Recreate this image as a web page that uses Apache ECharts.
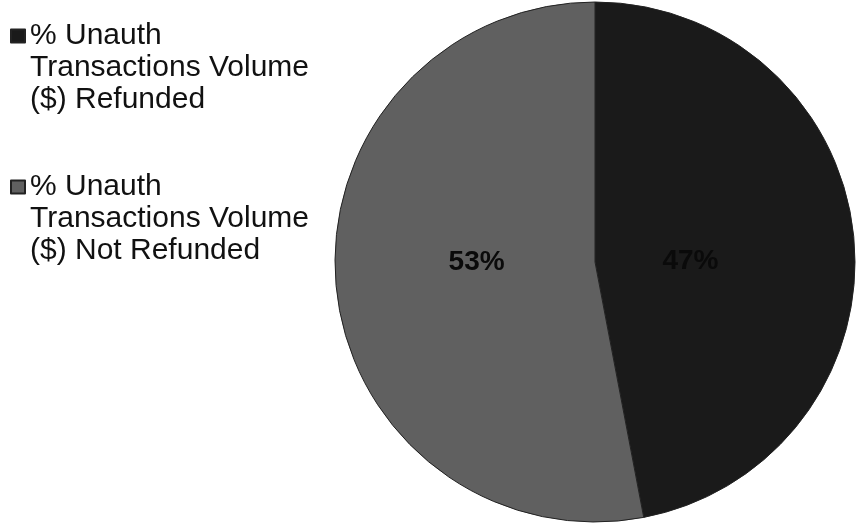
<!DOCTYPE html>
<html>
<head>
<meta charset="utf-8">
<script src="https://cdn.jsdelivr.net/npm/echarts@6/dist/echarts.min.js"></script>
<style>
  html, body { margin: 0; padding: 0; background: #fff; }
  #chart { width: 861px; height: 529px; }
</style>
</head>
<body>
<div id="chart"></div>
<script>
// Share of unauthorised transaction volume ($), refunded vs not refunded
const categories = [
  '% Unauth Transactions Volume ($) Refunded',
  '% Unauth Transactions Volume ($) Not Refunded'
];
const values = [47, 53];
const sliceColors = ['#1a1a1a', '#606060'];

// Label nudges (px) for the in-slice percentage labels
const labelNudge = [[-37, 12], [14, -12]];

const FONT = '"Liberation Sans", Arial, sans-serif';
const LINE = 32;

// Legend names wrap onto three lines; two leading blank lines put the
// first real line level with the marker (legend text is centred on it)
function wrapName(name) {
  return '\n\n' + name.replace(' Transactions', '\nTransactions').replace(' ($)', '\n($)');
}

function legendBlock(name, top) {
  return {
    data: [name],
    orient: 'vertical',
    left: 10,
    top: top,
    padding: 0,
    itemWidth: 14,
    itemHeight: 13,
    icon: 'rect',
    selectedMode: false,
    formatter: wrapName,
    textStyle: {
      fontFamily: FONT,
      fontSize: 30,
      lineHeight: LINE,
      color: '#111'
    }
  };
}

const chart = echarts.init(document.getElementById('chart'), null, { renderer: 'canvas' });

chart.setOption({
  animation: false,
  backgroundColor: '#ffffff',
  color: sliceColors,
  legend: [
    legendBlock(categories[0], 36 - 2.5 * LINE),
    legendBlock(categories[1], 187 - 2.5 * LINE)
  ],
  series: [{
    type: 'pie',
    center: [595, 262],
    radius: 260,
    startAngle: 90,
    clockwise: true,
    avoidLabelOverlap: false,
    itemStyle: { borderColor: '#222', borderWidth: 1 },
    label: {
      show: true,
      position: 'inside',
      formatter: '{c}%',
      fontFamily: FONT,
      fontSize: 28,
      fontWeight: 'bold',
      color: '#0a0a0a'
    },
    labelLine: { show: false },
    labelLayout: function (p) {
      const n = labelNudge[p.dataIndex];
      return { dx: n[0], dy: n[1] };
    },
    emphasis: { disabled: true },
    data: categories.map((c, i) => ({ name: c, value: values[i] }))
  }]
});
</script>
</body>
</html>
